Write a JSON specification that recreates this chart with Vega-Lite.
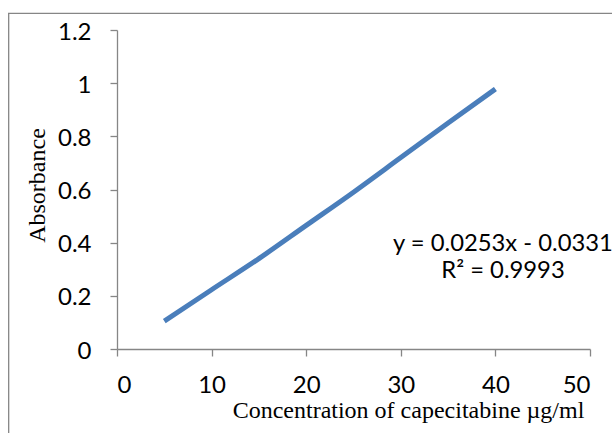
{
  "$schema": "https://vega.github.io/schema/vega-lite/v6.json",
  "width": 473,
  "height": 319,
  "autosize": {"type": "none"},
  "padding": {"left": 117, "top": 30, "right": 22, "bottom": 84},
  "background": "white",
  "config": {
    "view": {"stroke": null},
    "axis": {
      "domainColor": "#868686",
      "tickColor": "#868686",
      "domainWidth": 1.3,
      "tickWidth": 1.3,
      "tickSize": 7,
      "grid": false,
      "labelFont": "Lato",
      "labelFontSize": 24,
      "labelFontWeight": "normal",
      "labelColor": "#000000",
      "titleFont": "Liberation Serif",
      "titleFontSize": 24,
      "titleFontWeight": "normal",
      "titleColor": "#000000"
    }
  },
  "layer": [
    {
      "data": {"values": [{}]},
      "mark": {"type": "rect", "fill": null, "stroke": "#868686", "strokeWidth": 1.3, "clip": false},
      "encoding": {
        "x": {"datum": -11.45, "type": "quantitative", "scale": {"domain": [0, 50], "nice": false}},
        "x2": {"datum": 53.5},
        "y": {"datum": 1.2627, "type": "quantitative", "scale": {"domain": [0, 1.2], "nice": false}},
        "y2": {"datum": -0.4}
      }
    },
    {
      "data": {
        "values": [
          {"concentration": 5, "absorbance": 0.105},
          {"concentration": 10, "absorbance": 0.223},
          {"concentration": 15, "absorbance": 0.34},
          {"concentration": 20, "absorbance": 0.465},
          {"concentration": 25, "absorbance": 0.59},
          {"concentration": 30, "absorbance": 0.72},
          {"concentration": 35, "absorbance": 0.85},
          {"concentration": 40, "absorbance": 0.978}
        ]
      },
      "mark": {"type": "line", "color": "#4a7ebb", "strokeWidth": 5, "strokeCap": "butt", "interpolate": "monotone"},
      "encoding": {
        "x": {
          "field": "concentration",
          "type": "quantitative",
          "scale": {"domain": [0, 50], "nice": false},
          "axis": {
            "values": [0, 10, 20, 30, 40, 50],
            "labelPadding": 17,
            "title": "Concentration of capecitabine µg/ml",
            "titleX": 291,
            "titleY": 68,
            "titleAnchor": null,
            "titleAlign": "center",
            "titleBaseline": "alphabetic"
          }
        },
        "y": {
          "field": "absorbance",
          "type": "quantitative",
          "scale": {"domain": [0, 1.2], "nice": false},
          "axis": {
            "values": [0, 0.2, 0.4, 0.6, 0.8, 1, 1.2],
            "format": "~g",
            "labelPadding": 19,
            "labelOffset": 2,
            "title": "Absorbance",
            "titleX": -73,
            "titleY": 155,
            "titleAngle": 270,
            "titleAlign": "center",
            "titleBaseline": "alphabetic"
          }
        }
      }
    },
    {
      "data": {"values": [{}]},
      "mark": {
        "type": "text",
        "font": "Lato",
        "fontSize": 23.8,
        "fontWeight": "normal",
        "color": "#000000",
        "align": "center",
        "baseline": "alphabetic",
        "lineHeight": 27.6,
        "clip": false
      },
      "encoding": {
        "x": {"datum": 40.8, "type": "quantitative"},
        "y": {"datum": 0.37, "type": "quantitative"},
        "text": {"value": ["y = 0.0253x - 0.0331", "R² = 0.9993"]}
      }
    }
  ]
}
